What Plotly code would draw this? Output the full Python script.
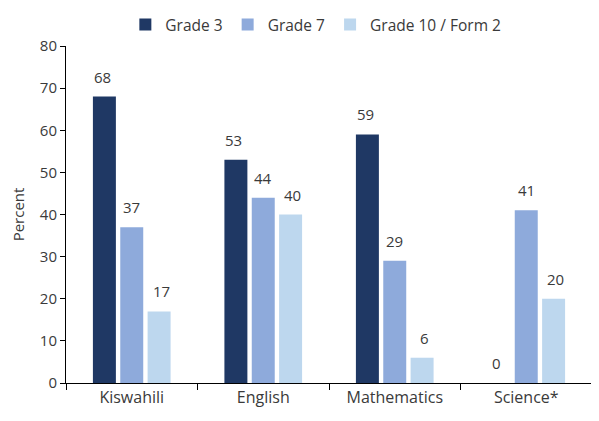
import plotly.graph_objects as go

categories = ["Kiswahili", "English", "Mathematics", "Science*"]
series_names = ["Grade 3", "Grade 7", "Grade 10 / Form 2"]
grade3 = [68, 53, 59, 0]
grade7 = [37, 44, 29, 41]
grade10 = [17, 40, 6, 20]
y_ticks = [0, 10, 20, 30, 40, 50, 60, 70, 80]

colors = ["#1f3864", "#8eaadb", "#bdd7ee"]
font_family = "Open Sans, Noto Sans, sans-serif"
text_color = "#3a3a3a"

fig = go.Figure()
all_series = [grade3, grade7, grade10]
for name, vals, col in zip(series_names, all_series, colors):
    fig.add_trace(go.Bar(x=categories, y=vals, name=name, marker=dict(color=col, line=dict(width=0))))

# value labels
shifts = [-29.5, 0, 29.5]
for vals, sh in zip(all_series, shifts):
    for c, v in zip(categories, vals):
        fig.add_annotation(x=c, y=v, text=str(v), showarrow=False, xshift=sh,
                           yanchor="bottom", yshift=8,
                           font=dict(size=15, color=text_color, family=font_family))

fig.update_layout(
    width=591, height=413,
    margin=dict(l=58, r=7, t=38, b=38, autoexpand=False),
    plot_bgcolor="white", paper_bgcolor="white",
    barmode="group", bargap=0.376, bargroupgap=0.16,
    font=dict(family=font_family, size=15, color=text_color),
    legend=dict(orientation="h", xref="paper", x=0.475, xanchor="center",
                yref="container", y=1.0, yanchor="top",
                font=dict(size=15.5, color=text_color), itemwidth=30),
    xaxis=dict(showline=True, linecolor="#000", linewidth=1, ticks="outside",
               tickson="boundaries", ticklen=6, tickcolor="#000", automargin=False,
               tickfont=dict(size=16, color=text_color)),
    yaxis=dict(range=[0, 80], tickvals=y_ticks, showline=True, linecolor="#000",
               linewidth=1, ticks="outside", ticklen=5, tickcolor="#000",
               showgrid=False, zeroline=False, automargin=False,
               title=dict(text="Percent", font=dict(size=15, color=text_color), standoff=12),
               tickfont=dict(size=15, color=text_color)),
)

fig.write_html("out.html")
